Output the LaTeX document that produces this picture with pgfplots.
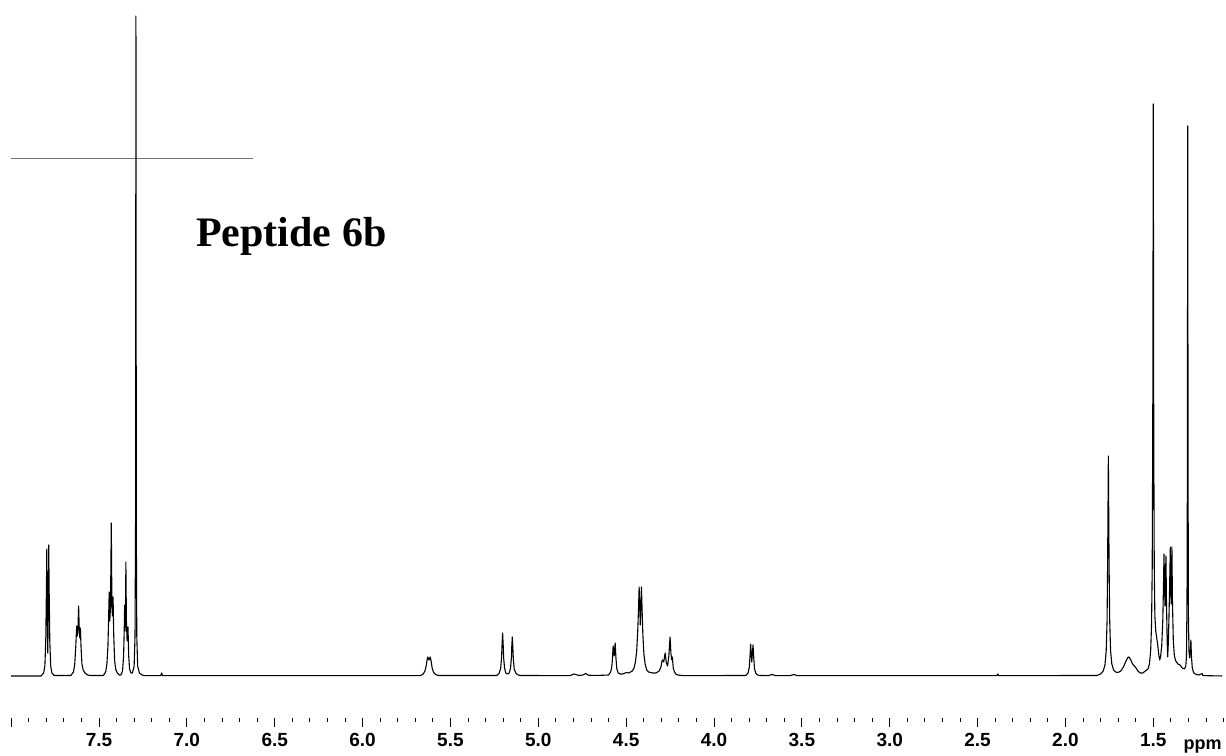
\documentclass[border=0pt]{standalone}
\usepackage{pgfplots}
\pgfplotsset{compat=1.18}
\usepackage{fontspec}
\setmainfont{Liberation Sans}
\newfontfamily\timesfont{Liberation Serif}
\begin{document}
\begin{tikzpicture}
\begin{axis}[
  scale only axis,
  width=1226pt, height=718pt,
  x dir=reverse,
  xmin=1.0862, xmax=8.0635,
  ymin=-42, ymax=676,
  axis x line*=bottom,
  hide y axis,
  x axis line style={draw=none},
  tick align=outside,
  major tick length=9pt,
  minor tick length=4pt,
  every tick/.style={black, line width=0.9pt},
  xtick={1.5,2.0,2.5,3.0,3.5,4.0,4.5,5.0,5.5,6.0,6.5,7.0,7.5,8.0},
  xticklabels={1.5,2.0,2.5,3.0,3.5,4.0,4.5,5.0,5.5,6.0,6.5,7.0,7.5,},
  minor xtick={1.1,1.2,1.3,1.4,1.6,1.7,1.8,1.9,2.1,2.2,2.3,2.4,2.6,2.7,2.8,2.9,3.1,3.2,3.3,3.4,3.6,3.7,3.8,3.9,4.1,4.2,4.3,4.4,4.6,4.7,4.8,4.9,5.1,5.2,5.3,5.4,5.6,5.7,5.8,5.9,6.1,6.2,6.3,6.4,6.6,6.7,6.8,6.9,7.1,7.2,7.3,7.4,7.6,7.7,7.8,7.9},
  xticklabel style={font=\bfseries\fontsize{19}{21}\selectfont, yshift=-3pt},
  clip=false,
]
\coordinate (TL) at (axis cs:8.0635,676);
\coordinate (BR) at (axis cs:1.0862,-80);
% cursor line
\draw[color=black!55, line width=1pt] (axis cs:8.0,517) -- (axis cs:6.6235,517);
\addplot[black, line width=1.1pt, line join=round] coordinates {
(8.000,0)(7.830,0)
(7.815,3)(7.808,10)(7.803,35)(7.799,90)(7.797,127)(7.7945,60)(7.7915,23)(7.789,60)(7.786,131)(7.784,90)(7.780,35)(7.775,10)(7.768,3)(7.755,0.5)
(7.660,0.5)(7.645,4)(7.638,12)(7.632,30)(7.627,50)(7.6235,40)(7.620,45)(7.616,70)(7.612,45)(7.609,38)(7.606,48)(7.602,28)(7.597,12)(7.590,6)(7.580,3)(7.565,1)(7.550,0.5)
(7.475,0.5)(7.462,4)(7.455,12)(7.449,30)(7.445,60)(7.442,84)(7.4385,55)(7.4345,70)(7.430,153)(7.4265,70)(7.4235,60)(7.420,79)(7.416,40)(7.411,15)(7.404,6)(7.395,3)(7.385,1)
(7.375,1)(7.366,5)(7.360,20)(7.356,50)(7.354,71)(7.3515,45)(7.349,60)(7.347,114)(7.344,55)(7.340,35)(7.338,40)(7.335,49)(7.331,20)(7.326,7)(7.318,3)(7.310,3)(7.300,10)(7.295,40)(7.292,150)(7.2898,660)(7.2876,150)(7.285,40)(7.280,10)(7.270,3)(7.255,1)(7.240,0.3)
(7.150,0.3)(7.143,3)(7.139,0.3)
(5.670,0.3)(5.655,2)(5.645,5)(5.638,10)(5.633,16)(5.629,19)(5.622,16)(5.615,19)(5.610,15)(5.604,8)(5.597,4)(5.585,1.5)(5.570,0.5)
(5.235,0.5)(5.222,3)(5.214,8)(5.209,18)(5.206,32)(5.203,43)(5.200,32)(5.197,18)(5.192,8)(5.185,3)(5.176,2)
(5.165,3)(5.158,8)(5.153,18)(5.151,29)(5.148,39)(5.145,29)(5.142,17)(5.137,7)(5.128,3)(5.115,1)(5.100,0.5)
(4.820,0.3)(4.796,2)(4.770,0.5)(4.745,1)(4.730,2.5)(4.715,0.8)(4.680,0.5)(4.620,0.8)
(4.600,1)(4.588,4)(4.581,10)(4.577,20)(4.574,30)(4.568,20)(4.5625,33)(4.558,18)(4.553,7)(4.545,3)(4.535,2)
(4.520,2)(4.505,3)(4.495,3.5)(4.485,3)(4.475,4)
(4.465,5)(4.455,8)(4.447,14)(4.440,25)(4.434,45)(4.430,65)(4.426,89)(4.4195,51)(4.413,89)(4.409,65)(4.405,42)(4.399,22)(4.392,12)(4.383,6)(4.372,4)
(4.350,3)(4.330,3)(4.312,5)(4.302,9)(4.296,15)(4.293,16)(4.286,14)(4.278,23)(4.271,13)(4.264,10)(4.257,20)(4.250,39)(4.245,22)(4.240,16)(4.237,19)(4.232,8)(4.225,4)(4.215,1.5)(4.200,0.8)(4.170,0.3)
(3.820,0.5)(3.806,3)(3.799,9)(3.795,20)(3.7915,32)(3.785,14)(3.778,31)(3.774,19)(3.770,8)(3.763,3)(3.752,1)(3.740,0.5)
(3.690,0.4)(3.670,1.5)(3.650,0.4)(3.565,0.4)(3.545,1.5)(3.525,0.3)
(2.390,0.3)(2.385,2)(2.380,0.3)
(1.820,0.5)(1.800,2)(1.785,5)(1.775,11)(1.768,25)(1.763,55)(1.760,110)(1.7557,220)(1.7515,110)(1.748,55)(1.743,25)(1.736,12)(1.726,6)
(1.715,4)(1.700,3.5)(1.685,5)(1.670,9)(1.655,15)(1.645,18.5)(1.638,19)(1.628,16)(1.618,12)(1.608,10)(1.598,8)(1.588,5)(1.575,3)(1.560,3)(1.545,5)
(1.530,7)(1.522,12)(1.515,25)(1.510,50)(1.506,110)(1.503,250)(1.500,572)(1.4975,250)(1.4945,110)(1.491,60)(1.486,45)(1.481,39)(1.474,30)(1.468,20)(1.463,16)(1.458,20)
(1.452,30)(1.446,55)(1.442,90)(1.439,122)(1.4335,70)(1.428,120)(1.425,75)(1.421,35)(1.418,19)(1.414,35)(1.408,80)(1.403,129)(1.3985,72)(1.394,129)(1.391,75)(1.386,35)(1.380,20)(1.372,15)(1.360,12)(1.348,11)(1.335,8)(1.322,7)(1.315,10)
(1.311,20)(1.308,80)(1.306,200)(1.304,550)(1.302,200)(1.300,60)(1.297,25)(1.293,18)(1.289,26)(1.286,36)(1.283,20)(1.278,8)(1.270,3)(1.255,1.5)(1.240,1)(1.222,2.5)(1.218,0.5)(1.200,0.3)(1.108,0)
};
\node[anchor=base west, font=\timesfont\bfseries\fontsize{42}{50}\selectfont, inner sep=0pt] at (axis cs:6.948,429) {Peptide 6b};
\node[anchor=base west, font=\bfseries\fontsize{18}{20}\selectfont, inner sep=0pt] at (axis cs:1.329,-74) {ppm};
\end{axis}
\pgfresetboundingbox
\useasboundingbox (TL) rectangle (BR);
\end{tikzpicture}
\end{document}
